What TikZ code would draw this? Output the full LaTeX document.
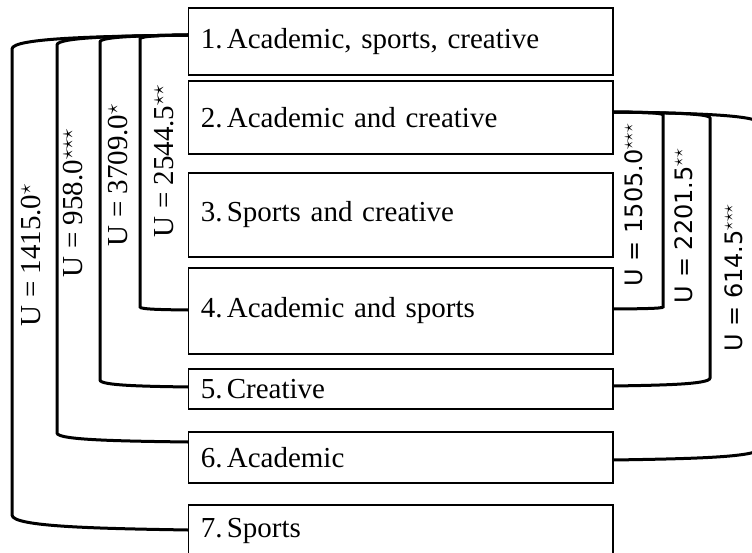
\documentclass[tikz,border=0pt]{standalone}
\usepackage{fontspec}
\setmainfont{Liberation Serif}
\newfontfamily\labsans{DejaVu Sans}
\usetikzlibrary{calc}
\begin{document}
\begin{tikzpicture}[x=1pt,y=-1pt,
  box/.style={draw, line width=1.2pt, minimum width=424.5pt, text width=400pt,
    align=left, inner xsep=11pt, inner ysep=0pt, font=\fontsize{29}{34}\selectfont},
  conn/.style={line width=3pt},
  lab/.style={rotate=90, anchor=base, font=\fontsize{29}{34}\selectfont, inner sep=0pt},
  labr/.style={rotate=90, anchor=base, font=\labsans\fontsize{24}{28}\selectfont, inner sep=0pt}]
\useasboundingbox (0,0) rectangle (752,553);
% boxes
\node[box, minimum height=67pt] (b1) at (400.75,41.5) {1.\kern0.15em Academic, sports, creative};
\node[box, minimum height=73pt] (b2) at (400.75,117.5) {2.\kern0.15em Academic and creative};
\node[box, minimum height=84pt] (b3) at (400.75,215) {3.\kern0.15em Sports and creative};
\node[box, minimum height=86pt] (b4) at (400.75,311) {4.\kern0.15em Academic and sports};
\node[box, minimum height=40pt] (b5) at (400.75,389) {5.\kern0.15em Creative};
\node[box, minimum height=51pt] (b6) at (400.75,457.5) {6.\kern0.15em Academic};
\node[box, minimum height=51pt] (b7) at (400.75,530.5) {7.\kern0.15em Sports};
% left connectors
\draw[conn] ($(b1.west)+(0,-6.5)$) .. controls (164.5,35.4) and (140,35.8) .. (140,39)
  -- (140,307) .. controls (140,309.4) and (164.5,309.7) .. ($(b4.west)+(0,-1)$);
\draw[conn] ($(b1.west)+(0,-6.5)$) .. controls (144.5,35.7) and (100,36.4) .. (100,42)
  -- (100,380) .. controls (100,385.6) and (144.5,386.3) .. ($(b5.west)+(0,-2)$);
\draw[conn] ($(b1.west)+(0,-6.5)$) .. controls (123,36) and (57,37) .. (57,45)
  -- (57,433) .. controls (57,440.2) and (123,441.1) .. ($(b6.west)+(0,-15.5)$);
\draw[conn] ($(b1.west)+(0,-6.5)$) .. controls (100.5,36.4) and (12,37.8) .. (12,49)
  -- (12,515) .. controls (12,527) and (100.5,528.5) .. ($(b7.west)+(0,-0.5)$);
% right connectors
\draw[conn] ($(b2.east)+(0,-5.5)$) .. controls (638,112.3) and (663,112.6) .. (663,115)
  -- (663,307) .. controls (663,308.6) and (638,308.8) .. ($(b4.east)+(0,-2)$);
\draw[conn] ($(b2.east)+(0,-5.5)$) .. controls (661.5,112.6) and (710,113.2) .. (710,118)
  -- (710,378) .. controls (710,384.4) and (661.5,385.2) .. ($(b5.east)+(0,-3)$);
\draw[conn] ($(b2.east)+(0,-5.5)$) .. controls (686.5,113.2) and (760,114.4) .. (760,124)
  -- (760,448) .. controls (760,457.6) and (686.5,458.8) .. ($(b6.east)+(0,2.5)$);
% labels
\node[lab] (l1) at (173,161) {U = 2544.5$^{\star\star}$};
\node[lab] (l2) at (127,175) {U = 3709.0$^{\star}$};
\node[lab] (l3) at (82,203) {U = 958.0$^{\star\star\star}$};
\node[lab] (l4) at (40,255) {U = 1415.0$^{\star}$};
\node[labr] (l5) at (642,205) {U = 1505.0$^{\star\star\star}$};
\node[labr] (l6) at (692,226) {U = 2201.5$^{\star\star}$};
\node[labr] (l7) at (742,278) {U = 614.5$^{\star\star\star}$};
\end{tikzpicture}
\end{document}
